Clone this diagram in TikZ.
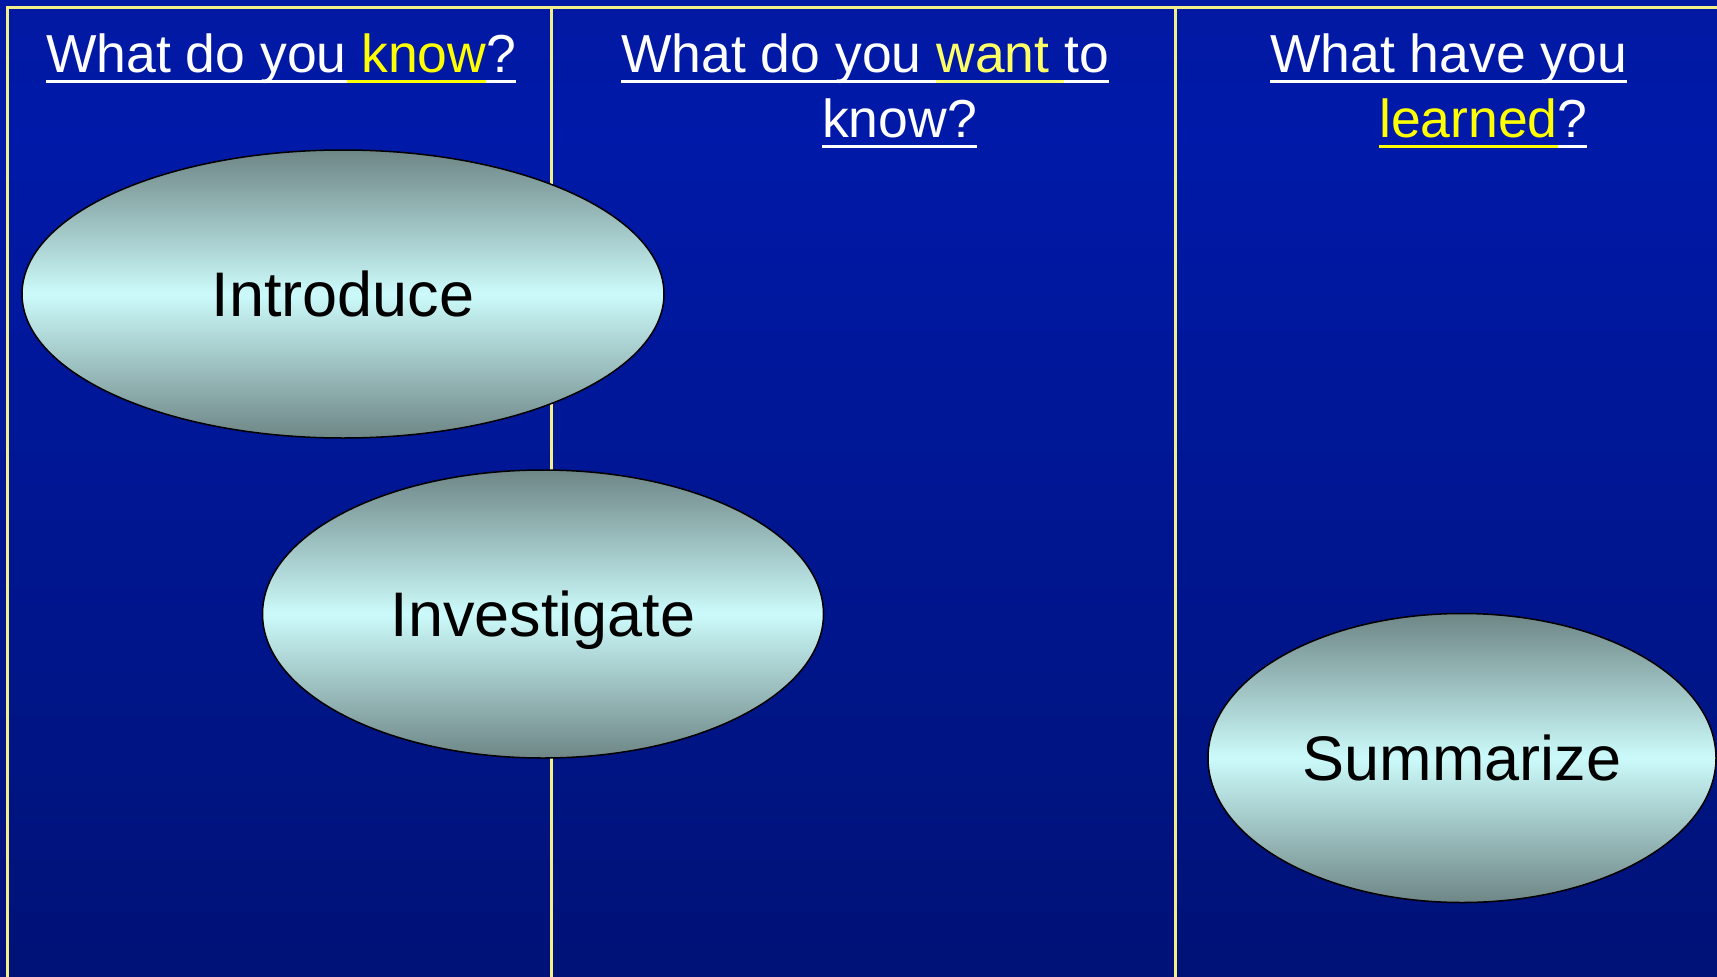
\documentclass[tikz,border=0pt]{standalone}
\usepackage{fontspec}
\setmainfont{Liberation Sans}
\usetikzlibrary{shapes.geometric}
\definecolor{bgtop}{HTML}{04188C}
\definecolor{bgmid}{HTML}{0019A8}
\definecolor{bglow}{HTML}{001482}
\definecolor{bgbot}{HTML}{000B5A}
\definecolor{rulecol}{HTML}{F2EE8A}
\definecolor{ovedge}{HTML}{6E8686}
\definecolor{ovmid}{HTML}{CCFAFA}
\definecolor{ylwA}{HTML}{FFFF00}
\definecolor{ylwB}{HTML}{FFFF66}
\pgfdeclareverticalshading{bgshade}{100bp}{color(0bp)=(bgbot); color(35bp)=(bglow); color(68bp)=(bgmid); color(100bp)=(bgtop)}
\newsavebox\ulbox
\newcommand\myul[2]{\sbox\ulbox{\color{#1}#2}\rlap{\color{#1}\rule[-0.21em]{\wd\ulbox}{0.06em}}\usebox\ulbox}
\begin{document}
\begin{tikzpicture}[x=1pt,y=-1pt,
  oval/.style={ellipse,draw=black,line width=1.5pt,top color=ovedge,bottom color=ovedge,middle color=ovmid,
    font=\fontsize{63}{70}\selectfont,text=black,inner sep=0pt,text depth=0pt},
  head/.style={anchor=base west,inner sep=0pt,font=\fontsize{53.5}{60}\selectfont,text=white},
  colrule/.style={draw=rulecol,line width=3pt}]
\useasboundingbox (0,0) rectangle (1717,977);
\shade[shading=bgshade] (0,0) rectangle (1717,977);
% frame and column rules
\coordinate (tl) at (7,7);
\coordinate (tr) at (1717,7);
\coordinate (bl) at (7,977);
\coordinate (d1t) at (551,7);
\coordinate (d1b) at (551,977);
\coordinate (d2t) at (1175,7);
\coordinate (d2b) at (1175,977);
\draw[colrule] (bl) -- (tl) -- (tr);
\draw[colrule] (d1t) -- (d1b);
\draw[colrule] (d2t) -- (d2b);
% ovals
\node[oval,minimum width=642pt,minimum height=288pt] (intro) at (343,294) {Introduce};
\node[oval,minimum width=561pt,minimum height=288pt] (invest) at (543,614) {Investigate};
\node[oval,minimum width=508pt,minimum height=289pt] (summ) at (1462,758) {Summarize};
% headers
\node[head] (h1) at (46,72) {\myul{white}{What do you}\myul{ylwA}{\ know}\myul{white}{?}};
\node[head] (h2a) at (621,72) {\myul{white}{What do you\ }\myul{ylwB}{want\ }\myul{white}{to}};
\node[head] (h2b) at (822,137) {\myul{white}{know?}};
\node[head] (h3a) at (1270,72) {\myul{white}{What have you}};
\node[head] (h3b) at (1379,137) {\myul{ylwA}{learned}\myul{white}{?}};
\end{tikzpicture}
\end{document}
